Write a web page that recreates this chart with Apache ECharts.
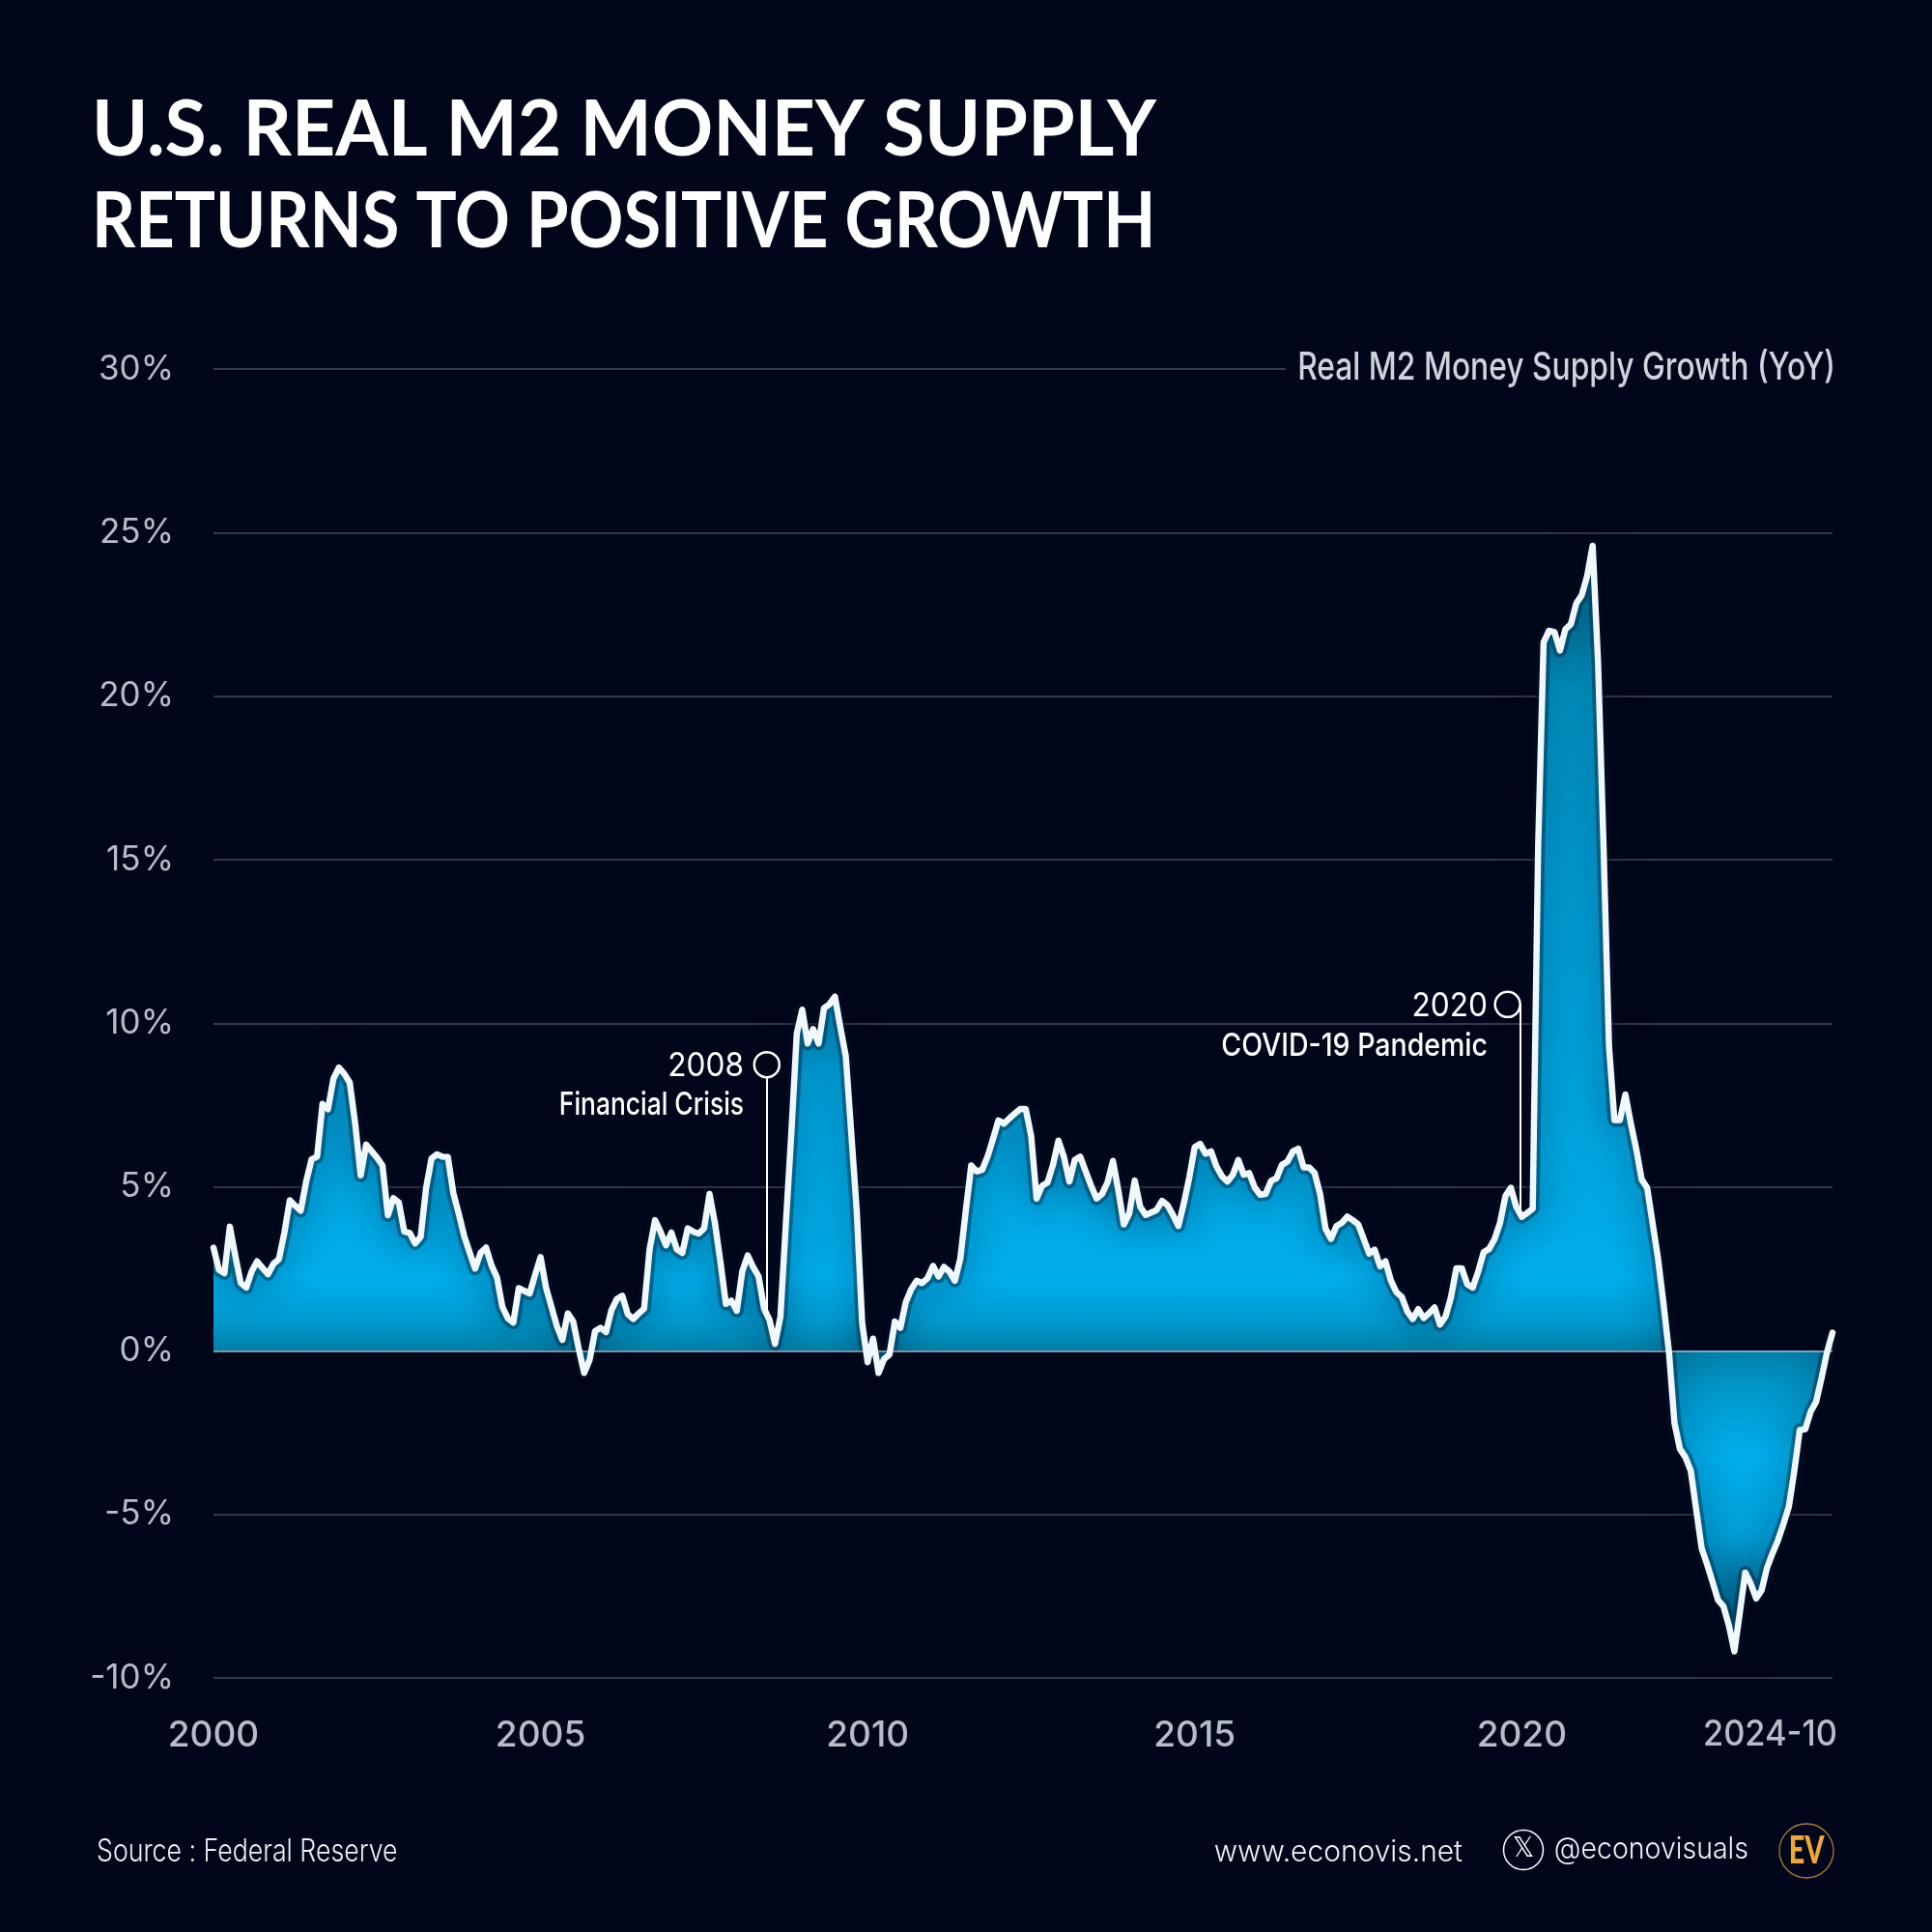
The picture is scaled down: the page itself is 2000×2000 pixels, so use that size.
<!DOCTYPE html>
<html><head><meta charset="utf-8">
<style>html,body{margin:0;padding:0;background:#02061a}#c{width:2000px;height:2000px}</style>
<script src="https://cdn.jsdelivr.net/npm/echarts@6/dist/echarts.min.js"></script>
</head><body><div id="c"></div>
<script>
const titleLines = ['U.S. REAL M2 MONEY SUPPLY', 'RETURNS TO POSITIVE GROWTH'];
const seriesName = 'Real M2 Money Supply Growth (YoY)';
const sourceText = 'Source : Federal Reserve';
const siteText = 'www.econovis.net';
const handleText = '@econovisuals';
const yTicks = [-10,-5,0,5,10,15,20,25,30];
const lastTickLabel = '2024-10';
const startYear = 2000;
const g2000 = [3.15,2.47,2.37,3.79,2.9,2.07,1.93,2.42,2.73,2.53,2.34,2.66];
const g2001 = [2.8,3.6,4.6,4.43,4.28,5.17,5.85,5.93,7.54,7.38,8.31,8.65];
const g2002 = [8.46,8.19,6.93,5.36,6.3,6.1,5.9,5.66,4.14,4.66,4.53,3.64];
const g2003 = [3.6,3.28,3.48,4.97,5.88,6.0,5.93,5.92,4.82,4.18,3.5,3.0];
const g2004 = [2.51,2.99,3.15,2.61,2.24,1.34,0.99,0.86,1.91,1.83,1.75,2.32];
const g2005 = [2.86,1.93,1.34,0.75,0.33,1.14,0.89,0.06,-0.68,-0.28,0.6,0.7];
const g2006 = [0.57,1.24,1.58,1.68,1.12,0.97,1.14,1.29,3.1,3.99,3.64,3.22];
const g2007 = [3.61,3.1,2.99,3.74,3.64,3.58,3.74,4.79,3.89,2.71,1.43,1.53];
const g2008 = [1.22,2.42,2.91,2.56,2.27,1.29,0.94,0.21,1.04,3.89,6.64,9.69];
const g2009 = [10.42,9.39,9.83,9.39,10.47,10.59,10.82,9.88,9.0,6.64,4.28,0.84];
const g2010 = [-0.35,0.37,-0.68,-0.26,-0.12,0.89,0.7,1.48,1.88,2.14,2.07,2.22];
const g2011 = [2.59,2.27,2.56,2.42,2.14,2.81,4.28,5.66,5.48,5.53,5.93,6.47];
const g2012 = [7.04,6.94,7.1,7.25,7.39,7.39,6.56,4.65,5.04,5.14,5.68,6.42];
const g2013 = [5.93,5.17,5.83,5.93,5.48,5.04,4.65,4.79,5.14,5.8,4.89,3.86];
const g2014 = [4.2,5.2,4.4,4.15,4.22,4.3,4.58,4.45,4.15,3.81,4.5,5.29];
const g2015 = [6.22,6.32,6.02,6.09,5.63,5.33,5.17,5.38,5.83,5.38,5.43,4.99];
const g2016 = [4.77,4.79,5.19,5.27,5.68,5.78,6.09,6.17,5.6,5.6,5.43,4.79];
const g2017 = [3.73,3.42,3.81,3.91,4.1,3.99,3.86,3.42,2.97,3.09,2.58,2.73];
const g2018 = [2.14,1.79,1.64,1.2,0.97,1.27,1.0,1.15,1.32,0.8,1.04,1.63];
const g2019 = [2.52,2.52,2.03,1.93,2.42,3.01,3.11,3.41,3.9,4.73,4.98,4.39];
const g2020 = [4.09,4.21,4.34,15.4,21.65,22.0,21.96,21.4,22.05,22.2,22.84,23.09];
const g2021 = [23.68,24.6,21.0,15.4,9.31,7.05,7.05,7.83,6.95,6.16,5.23,4.98];
const g2022 = [3.9,2.81,1.44,-0.04,-2.2,-3.0,-3.25,-3.67,-4.86,-6.04,-6.53,-7.07];
const g2023 = [-7.62,-7.81,-8.4,-9.19,-8.0,-6.78,-7.12,-7.57,-7.32,-6.63,-6.19,-5.79];
const g2024 = [-5.3,-4.76,-3.67,-2.42,-2.4,-1.86,-1.56,-0.83,-0.04,0.55];
const values = [].concat(g2000,g2001,g2002,g2003,g2004,g2005,g2006,g2007,g2008,g2009,g2010,g2011,g2012,g2013,g2014,g2015,g2016,g2017,g2018,g2019,g2020,g2021,g2022,g2023,g2024);
const pairs = values.map((v, i) => [i, v]);
const annotations = [
  {month:101.5, top:8.74, bottom:1.1, dx:0},
  {month:239.7, top:10.58, bottom:4.15, dx:-13}
];

const BG = '#02061a', TICK = '#b8bcc8', GRID = 'rgba(255,255,255,0.27)';
const AXF = 'Inter, "Noto Sans", sans-serif';
const gridTop = 382, gridH = 1355, gridLeft = 221, gridW = 1676;
const yOf = v => (30 - v) / 40;

const chart = echarts.init(document.getElementById('c'), null, {renderer:'canvas', width:2000, height:2000});

const fill = {
  type:'linear', global:true, x:0, y:gridTop, x2:0, y2:gridTop+gridH,
  colorStops:[
    {offset:yOf(25), color:'#00688e'},
    {offset:yOf(22), color:'#0084b0'},
    {offset:yOf(20), color:'#0092c2'},
    {offset:yOf(12), color:'#009ed6'},
    {offset:yOf(4.5), color:'#00a8e4'},
    {offset:yOf(2.2), color:'#00aeec'},
    {offset:yOf(0.9), color:'#009ad0'},
    {offset:yOf(0.02), color:'#007fa8'},
    {offset:yOf(-0.02), color:'#007fab'},
    {offset:yOf(-1.2), color:'#0098ca'},
    {offset:yOf(-3.2), color:'#00aeec'},
    {offset:yOf(-5.5), color:'#00a2db'},
    {offset:yOf(-8), color:'#00729c'}
  ]
};

function T(text, x, y, size, opts) {
  opts = opts || {};
  return {type:'text', x:x, y:y, z:opts.z||20, silent:true, scaleX:opts.scaleX||1, style:{
    text:text, fill:opts.color||'#fff', font:(opts.weight||'400')+' '+size+'px '+(opts.family||AXF),
    textAlign:opts.align||'left', textVerticalAlign:'middle', verticalAlign:'middle'
  }};
}

const graphics = [
  T(titleLines[0], 95, 135, 80, {weight:'700', family:'Lato, sans-serif', scaleX:0.982}),
  T(titleLines[1], 95, 230, 80, {weight:'700', family:'Lato, sans-serif', scaleX:0.88}),
  {type:'rect', z:10, silent:true, shape:{x:1331,y:375,width:575,height:14}, style:{fill:BG}},
  T(seriesName, 1900, 381, 39, {align:'right', color:'#cfd3dc', weight:'500', scaleX:0.815}),
  T('2008', 770, 1104, 34, {align:'right', scaleX:0.93}),
  T('Financial Crisis', 770, 1144, 33, {align:'right', weight:'500', scaleX:0.8}),
  T('2020', 1540, 1042, 34, {align:'right', scaleX:0.93}),
  T('COVID-19 Pandemic', 1540, 1083, 33, {align:'right', weight:'500', scaleX:0.864}),
  T(lastTickLabel, 1902, 1796, 37, {align:'right', color:TICK, weight:'500', scaleX:0.93}),
  T(sourceText, 100, 1917, 32, {color:'#eef0f4', weight:'300', scaleX:0.835}),
  T(siteText, 1514, 1918, 31, {align:'right', color:'#f0f2f6', weight:'300', scaleX:0.965}),
  {type:'circle', z:20, silent:true, shape:{cx:1577,cy:1915,r:20.5}, style:{fill:'none', stroke:'#fff', lineWidth:1.5}},
  T('𝕏', 1577, 1915, 28, {align:'center', family:'"DejaVu Sans"'}),
  T(handleText, 1810, 1915, 31, {align:'right', color:'#f0f2f6', weight:'300', scaleX:0.92}),
  {type:'circle', z:20, silent:true, shape:{cx:1870,cy:1916,r:28}, style:{fill:'none', stroke:'#a87a3a', lineWidth:1.3}},
  T('EV', 1870, 1916, 40, {align:'center', color:'#eea838', weight:'900', scaleX:0.72, family:'Lato, sans-serif'})
];

chart.setOption({
  backgroundColor:BG,
  animation:false,
  grid:{left:gridLeft, top:gridTop, width:gridW, height:gridH, containLabel:false},
  xAxis:{
    type:'value', min:0, max:values.length-1, interval:60,
    axisLine:{show:false}, axisTick:{show:false}, splitLine:{show:false},
    axisLabel:{
      color:TICK, fontSize:37, fontFamily:AXF, fontWeight:500, margin:41,
      showMinLabel:true, showMaxLabel:false,
      formatter:(v) => String(startYear + v / 12)
    }
  },
  yAxis:{
    type:'value', min:yTicks[0], max:yTicks[yTicks.length-1], interval:5,
    axisLine:{show:false}, axisTick:{show:false},
    splitLine:{lineStyle:{color:GRID, width:1.6}},
    axisLabel:{color:TICK, fontSize:35, fontFamily:AXF, margin:41, padding:[5,0,0,0], formatter:'{value}%'}
  },
  series:[
    {type:'line', data:pairs, symbol:'none', z:2, silent:true,
     lineStyle:{width:0, opacity:0}, areaStyle:{color:fill, opacity:1, origin:0},
     markLine:{silent:true, symbol:'none', label:{show:false}, z:4,
       lineStyle:{color:'rgba(255,255,255,0.42)', width:2, type:'solid'},
       data:[{yAxis:0}]}},
    {type:'line', data:pairs, symbol:'none', z:3, silent:true,
     lineStyle:{color:'rgba(0,20,45,0.38)', width:14, shadowColor:'rgba(2,10,30,0.98)', shadowBlur:38, join:'round'}},
    {type:'line', data:pairs, symbol:'none', z:5, silent:true,
     lineStyle:{color:'#f1f8fd', width:6.5, join:'round', cap:'round'},
     markLine:{silent:true, symbol:'none', z:6, label:{show:false},
       lineStyle:{color:'#ffffff', width:2, type:'solid'},
       data:annotations.map(a => [
         {coord:[a.month, a.top]},
         {coord:[a.month, a.bottom]}
       ])},
     markPoint:{silent:true, symbol:'circle', symbolSize:26, z:7,
       itemStyle:{color:BG, borderColor:'#fff', borderWidth:2.5},
       label:{show:false},
       data:annotations.map(a => ({coord:[a.month, a.top], symbolOffset:[a.dx, 0]}))}}
  ],
  graphic:graphics
});
</script></body></html>
